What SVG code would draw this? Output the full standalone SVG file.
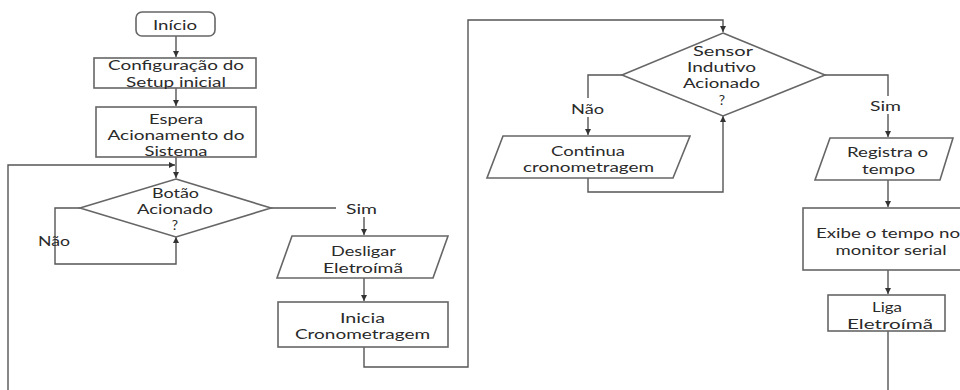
<svg xmlns="http://www.w3.org/2000/svg" width="960" height="390" viewBox="0 0 960 390">
<defs>
<marker id="arr" viewBox="0 0 8 8" refX="8" refY="4" markerWidth="6" markerHeight="6" orient="auto" markerUnits="userSpaceOnUse">
<path d="M0,0 L8,4 L0,8 z" fill="#333"/>
</marker>
<style>
.s{fill:#fff;stroke:#666;stroke-width:1.6}
.c{fill:none;stroke:#555;stroke-width:1.4}
.t{font-family:Lato,"Open Sans","Liberation Sans",sans-serif;font-size:14px;fill:#2a2a2a;text-anchor:middle;dominant-baseline:central}
</style>
</defs>
<rect width="960" height="390" fill="#fff"/>
<g id="connectors">
<path class="c" d="M176,36 V57" marker-end="url(#arr)"/>
<path class="c" d="M176,88 V106" marker-end="url(#arr)"/>
<path class="c" d="M176,157 V178" marker-end="url(#arr)"/>
<path class="c" d="M8,390 V165 H175" marker-end="url(#arr)"/>
<path class="c" d="M80,208 H55 V264 H176 V237" marker-end="url(#arr)"/>
<path class="c" d="M271,208 H336"/>
<path class="c" d="M364,217 V235" marker-end="url(#arr)"/>
<path class="c" d="M364,278 V301" marker-end="url(#arr)"/>
<path class="c" d="M364,347 V367 H468 V20 H723 V32" marker-end="url(#arr)"/>
<path class="c" d="M622,75 H588 V98"/>
<path class="c" d="M588,117 V135" marker-end="url(#arr)"/>
<path class="c" d="M588,178 V192 H723 V116" marker-end="url(#arr)"/>
<path class="c" d="M825,75 H888 V96"/>
<path class="c" d="M888,114 V137" marker-end="url(#arr)"/>
<path class="c" d="M888,180 V207" marker-end="url(#arr)"/>
<path class="c" d="M888,270 V294" marker-end="url(#arr)"/>
<path class="c" d="M888,331 V390"/>
</g>
<g id="inicio">
<rect class="s" x="136" y="12" width="79" height="24" rx="6"/>
<text class="t" x="175" y="24" textLength="44" lengthAdjust="spacingAndGlyphs">Início</text>
</g>
<g id="config">
<rect class="s" x="94" y="58" width="162" height="30"/>
<text class="t" x="176" y="64" textLength="136" lengthAdjust="spacingAndGlyphs">Configuração do</text>
<text class="t" x="176" y="81" textLength="100" lengthAdjust="spacingAndGlyphs">Setup inicial</text>
</g>
<g id="espera">
<rect class="s" x="96" y="107" width="160" height="50"/>
<text class="t" x="176" y="118" textLength="54" lengthAdjust="spacingAndGlyphs">Espera</text>
<text class="t" x="176" y="134" textLength="137" lengthAdjust="spacingAndGlyphs">Acionamento do</text>
<text class="t" x="176" y="150" textLength="63" lengthAdjust="spacingAndGlyphs">Sistema</text>
</g>
<g id="botao">
<polygon class="s" points="176,179 271,208 176,237 80,208"/>
<text class="t" x="175.5" y="192" textLength="47" lengthAdjust="spacingAndGlyphs">Botão</text>
<text class="t" x="175" y="208" textLength="76" lengthAdjust="spacingAndGlyphs">Acionado</text>
<text class="t" x="175" y="224">?</text>
</g>
<g id="label-nao1"><text class="t" x="54" y="240" textLength="32" lengthAdjust="spacingAndGlyphs">Não</text></g>
<g id="label-sim1"><text class="t" x="361.5" y="208" textLength="31" lengthAdjust="spacingAndGlyphs">Sim</text></g>
<g id="desligar">
<polygon class="s" points="292,236 448,236 433,278 277,278"/>
<text class="t" x="363.5" y="250" textLength="65" lengthAdjust="spacingAndGlyphs">Desligar</text>
<text class="t" x="363" y="267" textLength="80" lengthAdjust="spacingAndGlyphs">Eletroímã</text>
</g>
<g id="inicia">
<rect class="s" x="278" y="302" width="170" height="45"/>
<text class="t" x="362.5" y="317" textLength="45" lengthAdjust="spacingAndGlyphs">Inicia</text>
<text class="t" x="362.5" y="333" textLength="135" lengthAdjust="spacingAndGlyphs">Cronometragem</text>
</g>
<g id="sensor">
<polygon class="s" points="723,33 825,75 723,116 622,75"/>
<text class="t" x="723" y="50" textLength="60" lengthAdjust="spacingAndGlyphs">Sensor</text>
<text class="t" x="721.5" y="66" textLength="69" lengthAdjust="spacingAndGlyphs">Indutivo</text>
<text class="t" x="721.5" y="82" textLength="77" lengthAdjust="spacingAndGlyphs">Acionado</text>
<text class="t" x="722" y="99">?</text>
</g>
<g id="label-nao2"><text class="t" x="587.5" y="108" textLength="33" lengthAdjust="spacingAndGlyphs">Não</text></g>
<g id="continua">
<polygon class="s" points="503,136 690,136 673,178 487,178"/>
<text class="t" x="588" y="150" textLength="74" lengthAdjust="spacingAndGlyphs">Continua</text>
<text class="t" x="588.5" y="166" textLength="131" lengthAdjust="spacingAndGlyphs">cronometragem</text>
</g>
<g id="label-sim2"><text class="t" x="885.5" y="105" textLength="31" lengthAdjust="spacingAndGlyphs">Sim</text></g>
<g id="registra">
<polygon class="s" points="830,138 953,138 940,180 815,180"/>
<text class="t" x="887.5" y="151" textLength="81" lengthAdjust="spacingAndGlyphs">Registra o</text>
<text class="t" x="888.5" y="168" textLength="53" lengthAdjust="spacingAndGlyphs">tempo</text>
</g>
<g id="exibe">
<rect class="s" x="803" y="208" width="162" height="62"/>
<text class="t" x="888" y="232" textLength="144" lengthAdjust="spacingAndGlyphs">Exibe o tempo no</text>
<text class="t" x="891" y="249" textLength="111" lengthAdjust="spacingAndGlyphs">monitor serial</text>
</g>
<g id="liga">
<rect class="s" x="828" y="295" width="117" height="36"/>
<text class="t" x="887" y="306" textLength="30" lengthAdjust="spacingAndGlyphs">Liga</text>
<text class="t" x="890" y="323" textLength="86" lengthAdjust="spacingAndGlyphs">Eletroímã</text>
</g>
</svg>
